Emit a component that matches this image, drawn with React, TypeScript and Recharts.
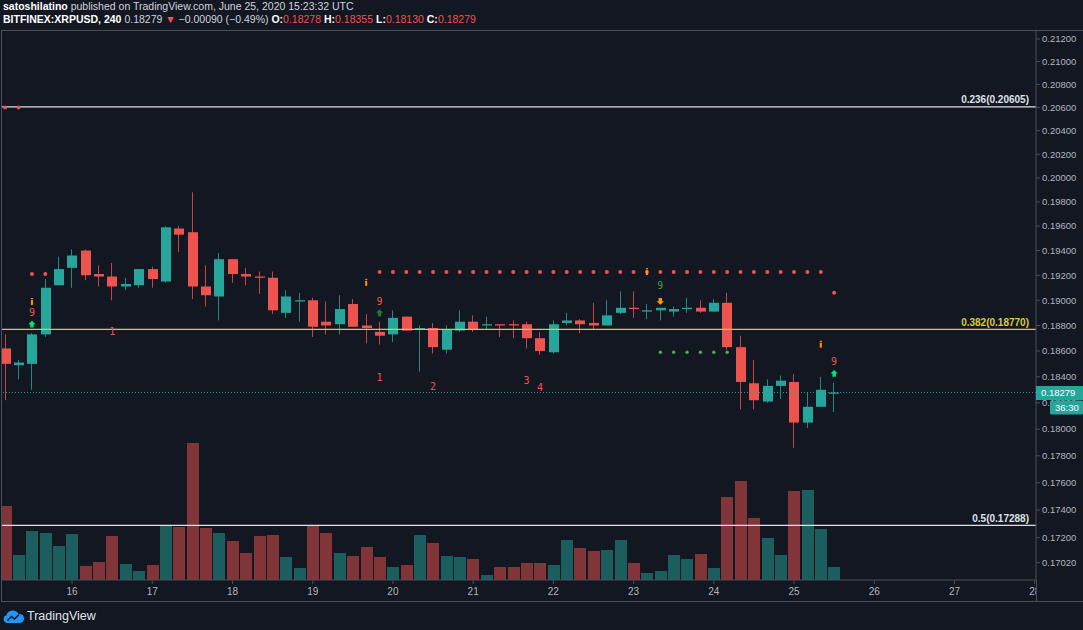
import { ComposedChart, Bar, Scatter, XAxis, YAxis, ReferenceLine } from 'recharts'

const BG = '#131722'
const UP = '#26a69a'
const DOWN = '#ef5350'
const UP_VOL = '#1c5e5e'
const DOWN_VOL = '#813539'
const AXIS = '#4a4e59'
const TEXT = '#b2b5be'
const HEAD = '#d1d4dc'
const FIB_YELLOW = '#d8cb3f'
const FIB_WHITE = '#dfe1e6'
const ORANGE = '#ff9800'
const FONT = '"Liberation Sans", Arial, sans-serif'

// BITFINEX:XRPUSD, 4h candles, 15 Jun 04:00 -> 25 Jun 08:00 UTC (bar index 5 = 16 Jun 00:00)
const opens = [
  0.1862, 0.1849, 0.1850, 0.1873, 0.1912, 0.1926, 0.1940, 0.1921, 0.1919, 0.1911,
  0.1912, 0.1925, 0.1915, 0.1958, 0.1955, 0.1911, 0.1903, 0.1933, 0.1921, 0.1919,
  0.1918, 0.1890, 0.1899, 0.1900, 0.1883, 0.1881, 0.1897, 0.1880, 0.1875, 0.1873,
  0.1887, 0.1877, 0.1878, 0.1861, 0.1876, 0.1883, 0.1880, 0.1881, 0.1881, 0.1881,
  0.1870, 0.1859, 0.1882, 0.1884, 0.1882, 0.1880, 0.1890, 0.1894, 0.1891, 0.1892,
  0.1891, 0.1893, 0.1894, 0.1891, 0.1898, 0.1863, 0.1835, 0.1821, 0.1833, 0.1836,
  0.1805, 0.1817, 0.18278,
]
const highs = [
  0.1873, 0.1853, 0.1874, 0.1917, 0.1935, 0.1941, 0.1941, 0.1928, 0.1930, 0.1918,
  0.1925, 0.1927, 0.1960, 0.1960, 0.1988, 0.1928, 0.1938, 0.1933, 0.1926, 0.1923,
  0.1923, 0.1908, 0.1906, 0.1902, 0.1899, 0.1904, 0.1901, 0.1889, 0.1883, 0.1892,
  0.1887, 0.1880, 0.1882, 0.1880, 0.1892, 0.1888, 0.1887, 0.1881, 0.1884, 0.1883,
  0.1875, 0.1884, 0.1890, 0.1885, 0.1898, 0.1900, 0.1907, 0.1907, 0.1897, 0.1894,
  0.1895, 0.1902, 0.1900, 0.1901, 0.1906, 0.1872, 0.1853, 0.1838, 0.1841, 0.1842,
  0.1828, 0.1840, 0.18355,
]
const lows = [
  0.1822, 0.1838, 0.1830, 0.1871, 0.1912, 0.1910, 0.1916, 0.1911, 0.1900, 0.1908,
  0.1910, 0.1910, 0.1914, 0.1939, 0.1901, 0.1895, 0.1884, 0.1914, 0.1912, 0.1905,
  0.1889, 0.1886, 0.1883, 0.1871, 0.1873, 0.1873, 0.1879, 0.1866, 0.1865, 0.1867,
  0.1876, 0.1844, 0.1858, 0.1858, 0.1875, 0.1875, 0.1877, 0.1871, 0.1870, 0.1862,
  0.1857, 0.1858, 0.1880, 0.1874, 0.1877, 0.1880, 0.1889, 0.1886, 0.1885, 0.1884,
  0.1887, 0.1890, 0.1890, 0.1891, 0.1861, 0.1815, 0.1815, 0.1820, 0.1823, 0.1786,
  0.1801, 0.1817, 0.18130,
]
const closes = [
  0.1850, 0.1851, 0.1873, 0.1910, 0.1925, 0.1936, 0.1920, 0.1919, 0.1911, 0.1913,
  0.1925, 0.1917, 0.1959, 0.1953, 0.1911, 0.1904, 0.1933, 0.1921, 0.1919, 0.1918,
  0.1892, 0.1903, 0.1900, 0.1879, 0.1880, 0.1893, 0.1879, 0.1878, 0.1872, 0.1886,
  0.1876, 0.1878, 0.1863, 0.1877, 0.1883, 0.1877, 0.1881, 0.1880, 0.1880, 0.1870,
  0.1860, 0.1881, 0.1884, 0.1881, 0.1880, 0.1888, 0.1894, 0.1893, 0.1892, 0.1894,
  0.1893, 0.1894, 0.1891, 0.1898, 0.1863, 0.1836, 0.1822, 0.1833, 0.1837, 0.1805,
  0.1817, 0.1830, 0.18279,
]
// volume, millions of XRP (approx)
const volumes = [
  7.4, 2.5, 4.9, 4.7, 3.4, 4.6, 1.4, 1.8, 4.4, 1.6,
  0.9, 1.5, 5.5, 5.3, 13.7, 5.2, 4.7, 3.9, 2.7, 4.4,
  4.5, 2.3, 1.2, 5.5, 4.7, 2.7, 2.4, 3.3, 2.3, 1.3,
  1.5, 4.5, 3.7, 2.4, 2.3, 2.1, 0.5, 1.3, 1.3, 1.7,
  1.7, 1.5, 4.0, 3.2, 2.9, 3.0, 4.0, 1.7, 0.7, 0.9,
  2.5, 2.1, 2.6, 1.2, 8.3, 9.9, 6.2, 4.2, 2.5, 8.9,
  9.0, 5.1, 1.3,
]

const dayTicks = [5, 11, 17, 23, 29, 35, 41, 47, 53, 59, 65, 71, 77]
const dayLabels = ['16', '17', '18', '19', '20', '21', '22', '23', '24', '25', '26', '27', '28']
const priceTicks = [
  0.1702, 0.172, 0.174, 0.176, 0.178, 0.18, 0.182, 0.184, 0.186, 0.188, 0.19,
  0.192, 0.194, 0.196, 0.198, 0.2, 0.202, 0.204, 0.206, 0.208, 0.21, 0.212,
]

const fibLevels = [
  { ratio: '0.236', price: 0.20605, color: FIB_WHITE },
  { ratio: '0.382', price: 0.1877, color: FIB_YELLOW },
  { ratio: '0.5', price: 0.17288, color: FIB_WHITE },
]

// TD sequential levels (one dot per bar)
const tdResistance = [
  { from: 0, to: 1, p: 0.2060 },
  { from: 2, to: 3, p: 0.1921 },
  { from: 28, to: 61, p: 0.19226 },
  { from: 62, to: 62, p: 0.1906 },
]
const tdSupport = [{ from: 49, to: 54, p: 0.1859 }]

const tdMarks = [
  { i: 2, p: 0.18986, kind: 'info' },
  { i: 2, p: 0.18906, kind: 'text', text: '9', color: DOWN },
  { i: 2, p: 0.1881, kind: 'up', color: '#00e676' },
  { i: 8, p: 0.18749, kind: 'text', text: '1', color: DOWN },
  { i: 27, p: 0.19139, kind: 'info' },
  { i: 28, p: 0.18994, kind: 'text', text: '9', color: DOWN },
  { i: 28, p: 0.189, kind: 'up', color: '#1b7a2c' },
  { i: 28, p: 0.18396, kind: 'text', text: '1', color: DOWN },
  { i: 32, p: 0.18329, kind: 'text', text: '2', color: DOWN },
  { i: 39, p: 0.18368, kind: 'text', text: '3', color: DOWN },
  { i: 40, p: 0.18318, kind: 'text', text: '4', color: DOWN },
  { i: 48, p: 0.19226, kind: 'info' },
  { i: 49, p: 0.1912, kind: 'text', text: '9', color: '#43a047' },
  { i: 49, p: 0.18992, kind: 'down', color: ORANGE },
  { i: 61, p: 0.18649, kind: 'info' },
  { i: 62, p: 0.1852, kind: 'text', text: '9', color: DOWN },
  { i: 62, p: 0.18425, kind: 'up', color: '#00e676' },
]

const COUNTDOWN = '36:30'

const rows = opens.map((o, i) => ({
  i, o, h: highs[i], l: lows[i], c: closes[i], v: volumes[i],
}))

const expand = (levels: { from: number; to: number; p: number }[]) =>
  levels.flatMap(s => rows.filter(r => r.i >= s.from && r.i <= s.to).map(r => ({ i: r.i, p: s.p })))

const resistDots = expand(tdResistance)
const supportDots = expand(tdSupport)

const last = rows[rows.length - 1]
// current price is drawn last on the price axis so its tag sits on top
const axisTicks = [...priceTicks, last.c]

const X_DOMAIN: [number, number] = [-0.2393, 77.098]
const PRICE_DOMAIN: [number, number] = [0.16897, 0.21271]
const VOL_DOMAIN: [number, number] = [0, 54.9]

function Candle(props: any) {
  const { x, y, width, height, payload } = props
  const { o, h, l, c } = payload
  const top = height >= 0 ? y : y + height
  const hh = Math.abs(height)
  const span = Math.log(h) - Math.log(l)
  const py = (v: number) => top + (hh * (Math.log(h) - Math.log(v))) / span
  const color = c >= o ? UP : DOWN
  const bx = Math.round(x)
  const cx = bx + Math.round(width / 2) - 0.5
  const b1 = py(Math.max(o, c))
  const b2 = py(Math.min(o, c))
  return (
    <g>
      <line x1={cx} x2={cx} y1={top} y2={top + hh} stroke={color} strokeOpacity={0.8} strokeWidth={1} />
      <rect x={bx} y={b1} width={width} height={Math.max(b2 - b1, 1.2)} fill={color} />
    </g>
  )
}

function VolBar(props: any) {
  const { x, y, width, height, payload } = props
  return (
    <rect
      x={Math.round(x)} y={y} width={width} height={height}
      fill={payload.c >= payload.o ? UP_VOL : DOWN_VOL}
    />
  )
}

function Dot(props: any) {
  const { cx, cy, fill, r } = props
  return <circle cx={cx} cy={cy} r={r} fill={fill} />
}

function TdMark(props: any) {
  const { cx, cy, payload } = props
  if (payload.kind === 'info') {
    return (
      <g>
        <rect x={cx - 1} y={cy - 2} width={2} height={5} fill={ORANGE} />
        <rect x={cx - 1} y={cy - 4} width={2} height={1.2} fill={ORANGE} />
      </g>
    )
  }
  if (payload.kind === 'up') {
    return (
      <path
        d={`M${cx},${cy - 3.5} L${cx + 3.7},${cy} L${cx + 1.7},${cy} L${cx + 1.7},${cy + 3.3} L${cx - 1.7},${cy + 3.3} L${cx - 1.7},${cy} L${cx - 3.7},${cy} Z`}
        fill={payload.color}
      />
    )
  }
  if (payload.kind === 'down') {
    return (
      <path
        d={`M${cx},${cy + 3.5} L${cx + 3.7},${cy} L${cx + 1.7},${cy} L${cx + 1.7},${cy - 3.3} L${cx - 1.7},${cy - 3.3} L${cx - 1.7},${cy} L${cx - 3.7},${cy} Z`}
        fill={payload.color}
      />
    )
  }
  return (
    <text x={cx} y={cy} dy={3.5} textAnchor="middle" fill={payload.color}
      fontSize={10} fontFamily='"DejaVu Sans Mono", monospace'>
      {payload.text}
    </text>
  )
}

function FibLabel(props: any) {
  const { viewBox, text, color } = props
  if (!viewBox) return null
  return (
    <text x={viewBox.x + viewBox.width - 7} y={viewBox.y - 3.5} textAnchor="end"
      fill={color} fontSize={10} fontWeight={600} fontFamily={FONT}>
      {text}
    </text>
  )
}

function PriceTick(props: any) {
  const { x, y, payload } = props
  const v = payload.value as number
  if (v === last.c) {
    const left = x - 6
    return (
      <g>
        <rect x={left} y={y - 6.5} width={47} height={14} fill={UP} />
        <text x={left + 5} y={y} dy={3.5} fill="#ffffff" fontSize={9.5} fontFamily={FONT}>
          {v.toFixed(5)}
        </text>
        <rect x={left + 14} y={y + 8} width={33} height={14} rx={1.5} fill={UP} />
        <text x={left + 19} y={y + 15} dy={3.5} fill="#ffffff" fontSize={9.5} fontFamily={FONT}>
          {COUNTDOWN}
        </text>
      </g>
    )
  }
  return (
    <text x={x} y={y} dy={3.3} fill={TEXT} fontSize={9.5} fontFamily={FONT}>
      {v.toFixed(5)}
    </text>
  )
}

// day labels are cut at the price-axis edge, like the last one in TradingView
function DayTick(props: any) {
  const { x, y, payload, width } = props
  const label = dayLabels[dayTicks.indexOf(payload.value)]
  return (
    <svg x={0} y={y - 2} width={width} height={18} overflow="hidden">
      <text x={x} y={2} dy={9} textAnchor="middle" fill={TEXT} fontSize={10} fontFamily={FONT}>
        {label}
      </text>
    </svg>
  )
}

function TvLogo() {
  return (
    <svg width={22} height={16} viewBox="0 0 22 16">
      <path d="M4 15 A4 4 0 0 1 3.5 7.2 A6.5 6.5 0 0 1 15.5 6 A4.5 4.5 0 0 1 17.5 15 Z" fill="#2196f3" />
      <polyline points="4.5,12.5 8.5,8.5 11.5,11 16,6.5" fill="none" stroke={BG} strokeWidth={1.6} />
    </svg>
  )
}

export default function App() {
  const red = { color: DOWN }
  return (
    <div style={{
      position: 'absolute', left: 0, top: 0, width: 1083, height: 630,
      background: BG, overflow: 'hidden', fontFamily: FONT,
    }}>
      <div style={{ position: 'absolute', left: 3, top: 0, fontSize: 10.5, lineHeight: '13px', color: HEAD, whiteSpace: 'nowrap' }}>
        <div><b style={{ color: '#fff' }}>satoshilatino</b> published on TradingView.com, June 25, 2020 15:23:32 UTC</div>
        <div>
          <b style={{ color: '#fff' }}>BITFINEX:XRPUSD, 240</b> {last.c.toFixed(5)} <span style={red}>▼</span> −0.00090 (−0.49%){' '}
          <b style={{ color: '#fff' }}>O:</b><span style={red}>{last.o.toFixed(5)}</span>{' '}
          <b style={{ color: '#fff' }}>H:</b><span style={red}>{last.h.toFixed(5)}</span>{' '}
          <b style={{ color: '#fff' }}>L:</b><span style={red}>{last.l.toFixed(5)}</span>{' '}
          <b style={{ color: '#fff' }}>C:</b><span style={red}>{last.c.toFixed(5)}</span>
        </div>
      </div>

      <div style={{
        position: 'absolute', left: 1, top: 30, width: 1082, height: 572, boxSizing: 'border-box',
        borderTop: `1px solid ${AXIS}`, borderLeft: `1px solid ${AXIS}`, borderBottom: `1px solid ${AXIS}`,
      }} />
      <div style={{ position: 'absolute', left: 1036, top: 580, width: 1, height: 22, background: AXIS }} />

      <div style={{ position: 'absolute', left: 2, top: 31 }}>
        <ComposedChart width={1081} height={571} data={rows} margin={{ top: 0, right: 0, bottom: 0, left: 0 }}>
          <XAxis
            xAxisId="x" dataKey="i" type="number" domain={X_DOMAIN} allowDataOverflow
            ticks={dayTicks} interval={0} height={22}
            tick={(p: any) => <DayTick {...p} />} tickSize={4} tickMargin={2}
            tickLine={{ stroke: AXIS }} axisLine={{ stroke: AXIS }}
          />
          <XAxis xAxisId="vx" dataKey="i" type="number" domain={X_DOMAIN} allowDataOverflow hide height={0} />
          <YAxis
            yAxisId="price" orientation="right" width={47} scale="log"
            domain={PRICE_DOMAIN} allowDataOverflow ticks={axisTicks} interval={0}
            tick={(p: any) => <PriceTick {...p} />}
            tickSize={4} tickMargin={2}
            tickLine={{ stroke: AXIS }} axisLine={{ stroke: AXIS }}
          />
          <YAxis yAxisId="vol" domain={VOL_DOMAIN} hide width={0} />

          <Bar
            xAxisId="vx" yAxisId="vol" dataKey="v" barSize={12}
            shape={(p: any) => <VolBar {...p} />} isAnimationActive={false}
          />
          {fibLevels.map(f => (
            <ReferenceLine
              key={f.ratio} xAxisId="x" yAxisId="price" y={f.price}
              stroke={f.color} strokeWidth={1.3}
              label={<FibLabel text={`${f.ratio}(${f.price.toFixed(5)})`} color={f.color} />}
            />
          ))}
          <ReferenceLine
            xAxisId="x" yAxisId="price" y={last.c}
            stroke={UP} strokeDasharray="1 2" strokeOpacity={0.9}
          />
          <Bar
            xAxisId="x" yAxisId="price" dataKey={(d: any) => [d.l, d.h]} barSize={10}
            shape={(p: any) => <Candle {...p} />} isAnimationActive={false}
          />
          <Scatter
            xAxisId="x" yAxisId="price" data={resistDots} dataKey="p"
            shape={(p: any) => <Dot {...p} r={2} fill={DOWN} />} isAnimationActive={false}
          />
          <Scatter
            xAxisId="x" yAxisId="price" data={supportDots} dataKey="p"
            shape={(p: any) => <Dot {...p} r={1.7} fill="#4caf50" />} isAnimationActive={false}
          />
          <Scatter
            xAxisId="x" yAxisId="price" data={tdMarks} dataKey="p"
            shape={(p: any) => <TdMark {...p} />} isAnimationActive={false}
          />
        </ComposedChart>
      </div>

      <div style={{ position: 'absolute', left: 3, top: 608, display: 'flex', alignItems: 'center', gap: 2 }}>
        <TvLogo />
        <span style={{ color: '#e0e3eb', fontSize: 12.5 }}>TradingView</span>
      </div>
    </div>
  )
}
